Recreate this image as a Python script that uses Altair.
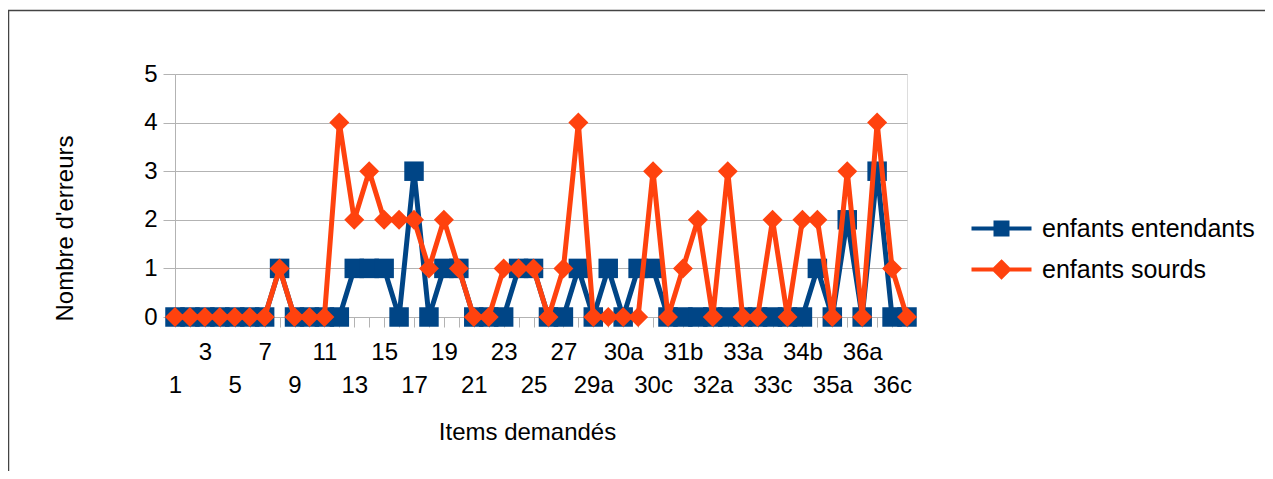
import json
import altair as alt
import pandas as pd

categories = ["1", "2", "3", "4", "5", "6", "7", "8", "9", "10",
              "11", "12", "13", "14", "15", "16", "17", "18", "19", "20",
              "21", "22", "23", "24", "25", "26", "27", "28", "29a", "29b",
              "30a", "30b", "30c", "31a", "31b", "31c", "32a", "32b", "33a", "33b",
              "33c", "34a", "34b", "34c", "35a", "35b", "36a", "36b", "36c", "36d"]

entendants = [0, 0, 0, 0, 0, 0, 0, 1, 0, 0,
              0, 0, 1, 1, 1, 0, 3, 0, 1, 1,
              0, 0, 0, 1, 1, 0, 0, 1, 0, 1,
              0, 1, 1, 0, 0, 0, 0, 0, 0, 0,
              0, 0, 0, 1, 0, 2, 0, 3, 0, 0]

sourds = [0, 0, 0, 0, 0, 0, 0, 1, 0, 0,
          0, 4, 2, 3, 2, 2, 2, 1, 2, 1,
          0, 0, 1, 1, 1, 0, 1, 4, 0, 0,
          0, 0, 3, 0, 1, 2, 0, 3, 0, 0,
          2, 0, 2, 2, 0, 3, 0, 4, 1, 0]

series_names = ["enfants entendants", "enfants sourds"]
series_colors = ["#004586", "#ff420e"]
y_ticks = [0, 1, 2, 3, 4, 5]

rows = []
for c, a, b in zip(categories, entendants, sourds):
    rows.append({"item": c, "series": series_names[0], "value": a})
    rows.append({"item": c, "series": series_names[1], "value": b})
df = pd.DataFrame(rows)

FONT = "Liberation Sans"
GREY = "#b3b3b3"

cats_js = json.dumps(categories)
idx = f"indexof({cats_js}, datum.value)"
label_expr = f"{idx} % 2 == 1 ? '' : ({idx} % 4 == 2 ? [datum.value, ' '] : [' ', datum.value])"

# legend symbols: a horizontal line with a (filled-looking) marker in the middle
square_path = ("M-3,0H3"
               "M-0.2,-0.2H0.2V0.2H-0.2Z"
               "M-0.4,-0.4H0.4V0.4H-0.4Z"
               "M-0.6,-0.6H0.6V0.6H-0.6Z")
diamond_path = ("M-3,0H3"
                "M0,-0.25L0.25,0L0,0.25L-0.25,0Z"
                "M0,-0.5L0.5,0L0,0.5L-0.5,0Z"
                "M0,-0.75L0.75,0L0,0.75L-0.75,0Z")

legend = alt.Legend(
    title=None, orient="none", legendX=814, legendY=142, padding=0,
    symbolSize=400, symbolStrokeWidth=4, symbolOpacity=1, labelFontSize=25, labelFont=FONT,
    labelColor="black", labelOffset=28, rowPadding=11, labelLimit=400,
)

x_enc = alt.X(
    "item:N", sort=categories,
    scale=alt.Scale(type="point", padding=0),
    axis=alt.Axis(
        title="Items demandés", titleFontSize=24, titleFont=FONT, titleFontWeight="normal",
        titleColor="black", titleX=352, titleY=115.5, titleBaseline="middle", titleAlign="center",
        labelAngle=0, labelFontSize=24, labelFont=FONT, labelColor="black", labelPadding=13,
        labelLineHeight=33, labelBaseline="top", labelAlign="center", labelOverlap=False,
        labelBound=False, labelExpr=label_expr,
        tickSize=10, tickColor=GREY, domainColor=GREY, grid=False,
    ),
)
y_enc = alt.Y(
    "value:Q", scale=alt.Scale(domain=[0, 5], nice=False),
    axis=alt.Axis(
        title="Nombre d'erreurs", titleFontSize=24, titleFont=FONT, titleFontWeight="normal",
        titleColor="black", titleX=-109.5, titleY=154, titleAngle=-90, titleBaseline="middle",
        titleAlign="center", values=y_ticks, labelFontSize=24, labelFont=FONT, labelColor="black",
        labelPadding=6, tickSize=12, tickColor=GREY, domainColor=GREY, gridColor=GREY, grid=True,
    ),
)

base = alt.Chart(df).encode(x=x_enc, y=y_enc)

frame = alt.Chart(alt.Data(values=[{}])).mark_rect(
    fillOpacity=0, stroke="#444444", strokeWidth=1.5
).encode(x=alt.value(-166.5), x2=alt.value(1300), y=alt.value(-63.5), y2=alt.value(600))

layers = [frame]
for name, col, shape, size in zip(series_names, series_colors, ["square", "diamond"], [380, 400]):
    sub = base.transform_filter(alt.datum.series == name)
    layers.append(sub.mark_line(strokeWidth=5, color=col))
    layers.append(sub.mark_point(shape=shape, size=size, filled=True, opacity=1,
                                 strokeWidth=0, color=col))

# legend-only layer (draws no marks; entries come from the explicit domains)
legend_layer = alt.Chart(df).transform_filter("false").mark_point(
    filled=False, strokeWidth=4, opacity=1
).encode(
    x=x_enc, y=y_enc,
    color=alt.Color("series:N", scale=alt.Scale(domain=series_names, range=series_colors),
                    legend=legend),
    shape=alt.Shape("series:N", scale=alt.Scale(domain=series_names, range=[square_path, diamond_path]),
                    legend=legend),
)
layers.append(legend_layer)

chart = alt.layer(*layers).properties(
    width=732, height=243,
    autosize=alt.AutoSizeParams(type="none"),
    padding={"left": 167, "top": 66, "right": 358, "bottom": 154},
    background="white",
).configure_view(stroke=GREY, strokeWidth=1).configure(font=FONT)

chart.save("out.html", embed_options={"renderer": "svg", "actions": False})
